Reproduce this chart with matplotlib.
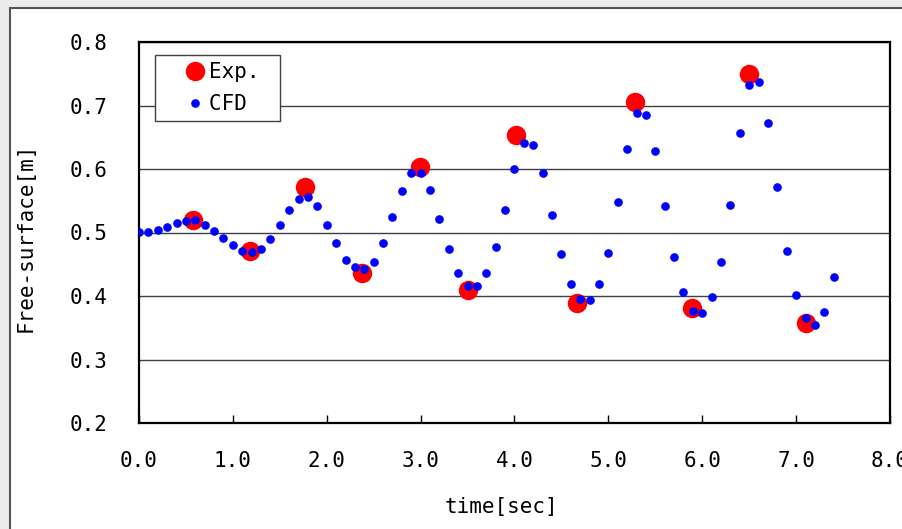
import numpy as np
import matplotlib.pyplot as plt
from matplotlib.patches import Rectangle

# 実験値 (Exp.)
exp_t = [0.58, 1.18, 1.77, 2.38, 2.99, 3.50, 4.02, 4.67, 5.28, 5.89, 6.50, 7.10]
exp_h = [0.520, 0.471, 0.571, 0.436, 0.603, 0.409, 0.653, 0.389, 0.705, 0.381, 0.750, 0.357]

# CFD結果 (0.1秒ごと)
cfd_t = [round(0.1 * i, 1) for i in range(75)]
cfd_h = [0.501, 0.501, 0.504, 0.509, 0.515, 0.518, 0.519, 0.512, 0.503, 0.492,
         0.480, 0.471, 0.469, 0.474, 0.489, 0.512, 0.535, 0.553, 0.556, 0.542,
         0.512, 0.483, 0.457, 0.445, 0.442, 0.454, 0.483, 0.524, 0.565, 0.594,
         0.594, 0.567, 0.521, 0.474, 0.436, 0.416, 0.416, 0.436, 0.477, 0.536,
         0.600, 0.641, 0.638, 0.594, 0.527, 0.466, 0.419, 0.395, 0.393, 0.419,
         0.468, 0.548, 0.632, 0.688, 0.685, 0.629, 0.541, 0.462, 0.407, 0.377,
         0.374, 0.398, 0.454, 0.544, 0.656, 0.732, 0.737, 0.673, 0.571, 0.471,
         0.401, 0.366, 0.354, 0.375, 0.430]

xticks = [0, 1, 2, 3, 4, 5, 6, 7, 8]
yticks = [0.2, 0.3, 0.4, 0.5, 0.6, 0.7, 0.8]

plt.rcParams['font.family'] = ['DejaVu Sans Mono', 'DejaVu Sans']

fig = plt.figure(figsize=(9.03, 5.29), dpi=100)
fig.patch.set_facecolor('#ececec')
# 白い枠
frame = Rectangle((10 / 903, -0.01), 1.0, 1 - 8 / 529 + 0.01,
                  transform=fig.transFigure, facecolor='white',
                  edgecolor='#555555', linewidth=1.5, zorder=-10)
fig.patches.append(frame)

ax = fig.add_axes([139 / 903, 1 - 423 / 529, 751 / 903, 381 / 529])
ax.plot(exp_t, exp_h, 'o', color='#ff0000', markersize=13, linestyle='none',
        label='Exp. ', zorder=3)
ax.plot(cfd_t, cfd_h, 'o', color='#0000ff', markersize=5.2, linestyle='none',
        label='CFD  ', zorder=4)

ax.set_xlim(0, 8)
ax.set_ylim(0.2, 0.8)
ax.set_xticks(xticks)
ax.set_xticklabels(['%.1f' % v for v in xticks])
ax.set_yticks(yticks)
ax.set_yticklabels(['%.1f' % v for v in yticks])
ax.tick_params(axis='x', direction='in', length=6, width=1, pad=20, labelsize=15)
ax.tick_params(axis='y', length=0, pad=23, labelsize=15)
ax.grid(True, axis='y', color='#404040', linewidth=1)
ax.set_axisbelow(True)
for s in ax.spines.values():
    s.set_linewidth(1.6)
    s.set_color('black')

ax.set_xlabel('time[sec]', fontsize=15)
ax.xaxis.set_label_coords(0.482, -0.195)
ax.set_ylabel('Free-surface[m]', fontsize=15)
ax.yaxis.set_label_coords(-0.138, 0.488)

leg = ax.legend(loc='upper left', bbox_to_anchor=(0.021, 0.966), borderaxespad=0,
                fontsize=15, frameon=True, fancybox=False, handlelength=3.1,
                handletextpad=-0.85, labelspacing=0.55, borderpad=0.36,
                markerscale=1.0)
leg.get_frame().set_edgecolor('#404040')
leg.get_frame().set_linewidth(1)
leg.get_frame().set_alpha(1)

plt.savefig('out.png', dpi=100)
